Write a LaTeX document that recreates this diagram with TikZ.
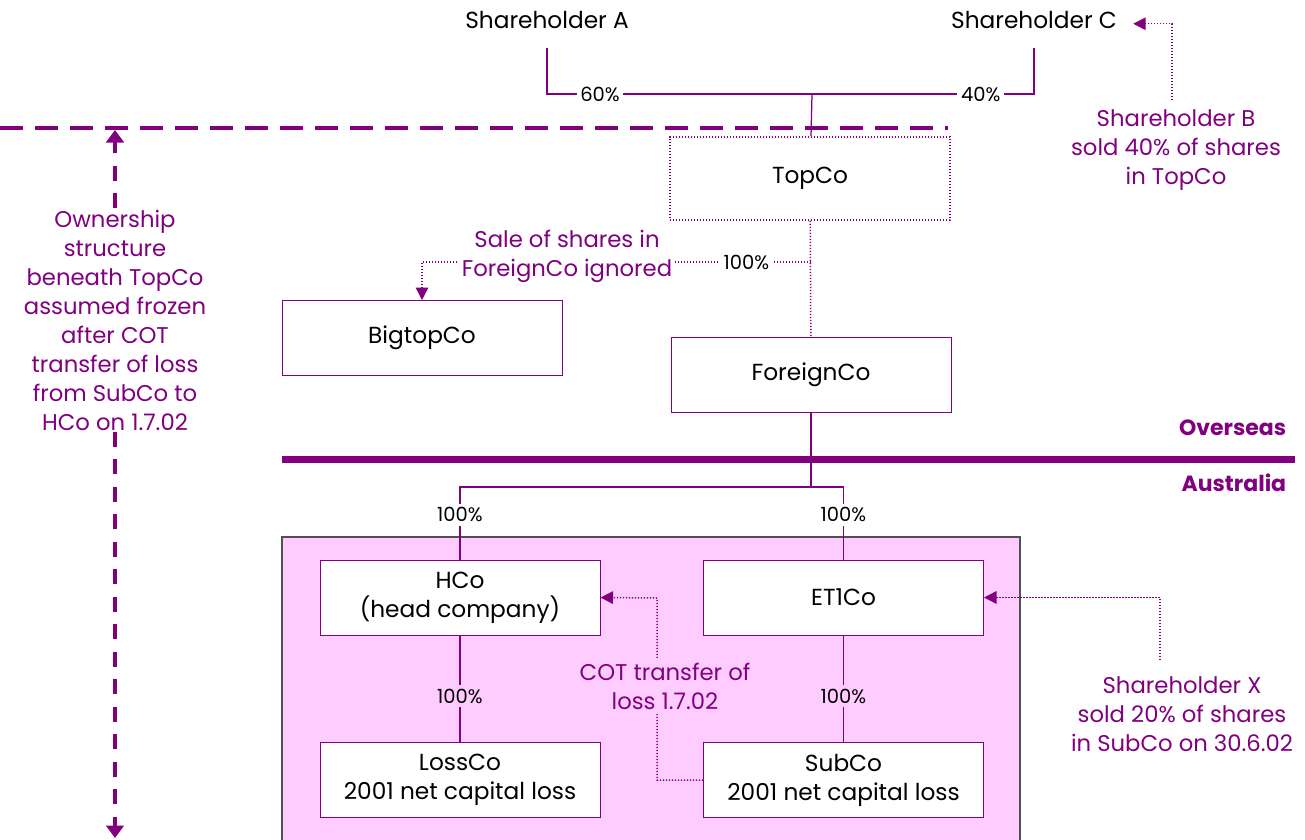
\documentclass[tikz,border=0pt]{standalone}
\usepackage{fontspec}
\setmainfont{Poppins}
\usetikzlibrary{arrows.meta}
\definecolor{plum}{HTML}{800080}
\definecolor{pinkbg}{HTML}{FFCCFF}
\definecolor{edgegrey}{HTML}{505050}
\def\CO#1#2#3{\node[cobox] (#1) at (#2) {#3};}
\begin{document}
\begin{tikzpicture}[x=0.4pt,y=-0.4pt,
  cobox/.style={draw=plum,fill=white,minimum width=112pt,minimum height=30pt,
    align=center,font=\fontsize{9.3}{11.6}\selectfont},
  holding/.style={plum,line width=0.5pt},
  pct/.style={fill=white,text=black,inner sep=1.5pt,font=\fontsize{7.8}{9}\selectfont},
  note/.style={text=plum,align=center,font=\fontsize{9.1}{11.6}\selectfont},
  dotline/.style={draw=plum,line width=0.6pt,dash pattern=on 0.5pt off 0.7pt},
  arrowed/.style={-{Triangle[length=5pt,width=5pt]}},
  bigarrow/.style={-{Triangle[length=5pt,width=7pt]}},
  frozen/.style={plum,line width=1.6pt,dash pattern=on 9pt off 5pt},
  frozenv/.style={plum,line width=1.6pt,dash pattern=on 6pt off 5pt}]
\useasboundingbox (0,0) rectangle (1305,839);

% shareholders
\node[font=\fontsize{9.3}{11.6}\selectfont] (shA) at (547,20) {Shareholder A};
\node[font=\fontsize{9.3}{11.6}\selectfont] (shC) at (1034,20) {Shareholder C};
\coordinate (topjoin) at (812,94);
\draw[holding,shorten <=4pt] (shA.south) |- node[pct,pos=0.6] {60\%} (topjoin);
\draw[holding,shorten <=4pt] (shC.south) |- node[pct,pos=0.62] {40\%} (topjoin);

% frozen structure
\coordinate (frzL) at (0,128);
\coordinate (frzR) at (948,128);
\draw[frozen] (frzL) -- (frzR);
\node[note] (frz) at (115,320) {Ownership\\structure\\beneath TopCo\\assumed frozen\\after COT\\transfer of loss\\from SubCo to\\HCo on 1.7.02};
\coordinate (frzup) at (115,130);
\coordinate (frzdown) at (115,838);
\draw[frozenv,bigarrow] ([yshift=-3pt]frz.north) -- (frzup);
\draw[frozenv,bigarrow] ([yshift=3pt]frz.south) -- (frzdown);

% overseas companies
\node[cobox,dotline,minimum height=33.2pt,text=black] (topco) at (810,178.5) {TopCo};
\draw[holding] (topjoin) -- (topco);
\CO{bigtop}{422,338}{BigtopCo}
\CO{foreign}{811,374.5}{ForeignCo}
\draw[dotline] (topco) -- (foreign);
\coordinate (salejoin) at (811,262);
\draw[dotline,arrowed] (salejoin) -| node[pct,pos=0.083] {100\%} (bigtop.north);
\node[note,fill=white,inner sep=1pt] (salenote) at (567,256) {Sale of shares in\\ForeignCo ignored};

\node[note] (bnote) at (1176,150) {Shareholder B\\sold 40\% of shares\\in TopCo};
\coordinate (bfoot) at (1172,100);
\draw[dotline,arrowed] (bfoot) |- ([xshift=3pt,yshift=-1.5pt]shC.east);

% border
\node[anchor=east,text=plum,font=\fontsize{8.8}{11}\selectfont\bfseries] (overseas) at (1295,428) {Overseas};
\node[anchor=east,text=plum,font=\fontsize{8.8}{11}\selectfont\bfseries] (australia) at (1295,483) {Australia};
\draw[plum,line width=2.8pt] (282,459) -- (1295,459);

% australian group
\fill[pinkbg,draw=edgegrey,line width=0.6pt] (282,537) rectangle (1020,860);
\CO{hco}{460,597.5}{HCo\\(head company)}
\CO{etco}{843.5,597.5}{ET1Co}
\CO{lossco}{460,780}{LossCo\\2001 net capital loss}
\CO{subco}{843.5,780}{SubCo\\2001 net capital loss}
\coordinate (ausjoin) at (811,487);
\draw[holding] (foreign) -- (ausjoin);
\draw[holding] (ausjoin) -| node[pct,pos=0.69] {100\%} (hco);
\draw[holding] (ausjoin) -| node[pct,pos=0.69] {100\%} (etco);
\draw[holding] (hco) -- node[pct,fill=pinkbg,pos=0.57] {100\%} (lossco);
\draw[holding] (etco) -- node[pct,fill=pinkbg,pos=0.57] {100\%} (subco);

\coordinate (cotbend) at (657,598);
\draw[dotline,arrowed] (subco.west) -| (cotbend) -- (hco.east);
\node[note,fill=pinkbg,inner sep=2pt] (cotnote) at (665,686) {COT transfer of\\loss 1.7.02};

\node[note] (xnote) at (1182,714) {Shareholder X\\sold 20\% of shares\\in SubCo on 30.6.02};
\coordinate (xfoot) at (1160,660);
\draw[dotline,arrowed] (xfoot) |- (etco.east);
\end{tikzpicture}
\end{document}
